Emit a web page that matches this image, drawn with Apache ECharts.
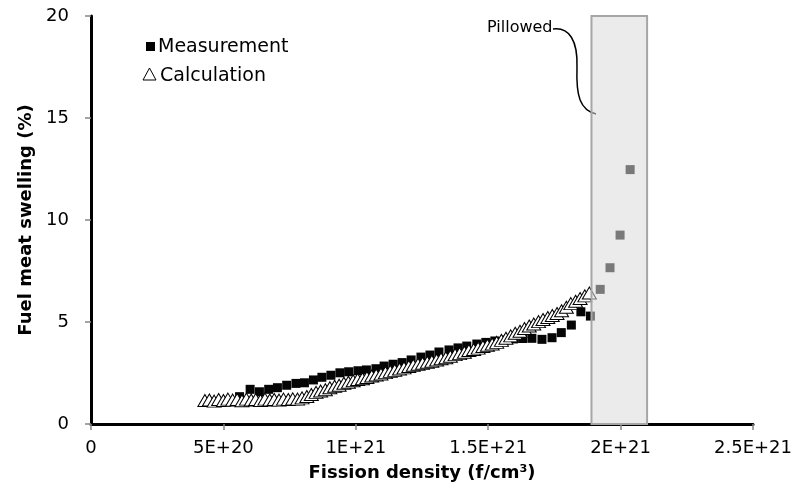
<!DOCTYPE html>
<html>
<head>
<meta charset="utf-8">
<script src="https://cdn.jsdelivr.net/npm/echarts@6/dist/echarts.min.js"></script>
<style>
html,body{margin:0;padding:0;background:#fff;}
#chart{width:795px;height:489px;}
</style>
</head>
<body>
<div id="chart"></div>
<script>
// Fission density in units of 1E+21 f/cm3
var measX = [0.561,0.601,0.636,0.671,0.704,0.739,0.774,0.806,0.840,0.872,0.906,0.940,0.973,1.008,1.040,1.076,1.107,1.141,1.175,1.209,1.246,1.280,1.314,1.352,1.386,1.419,1.457,1.491,1.525,1.562,1.596,1.630,1.665,1.703,1.741,1.776,1.814,1.850,1.886,1.923,1.960,1.998,2.036];
var measY = [1.34,1.70,1.58,1.70,1.78,1.90,1.99,2.02,2.16,2.29,2.39,2.51,2.56,2.61,2.65,2.71,2.84,2.93,3.01,3.14,3.28,3.38,3.53,3.63,3.73,3.82,3.92,4.00,4.07,4.12,4.17,4.19,4.20,4.15,4.23,4.48,4.85,5.50,5.29,6.60,7.66,9.26,12.47];

var calcX = [0.430,0.447,0.465,0.482,0.500,0.517,0.535,0.552,0.570,0.587,0.605,0.622,0.640,0.657,0.675,0.692,0.710,0.727,0.745,0.762,0.780,0.797,0.815,0.832,0.850,0.867,0.885,0.902,0.920,0.937,0.955,0.972,0.990,1.007,1.025,1.042,1.060,1.077,1.095,1.112,1.130,1.147,1.165,1.182,1.200,1.217,1.235,1.252,1.270,1.287,1.305,1.322,1.340,1.357,1.375,1.392,1.410,1.427,1.445,1.462,1.480,1.497,1.515,1.532,1.550,1.567,1.585,1.602,1.620,1.637,1.655,1.672,1.690,1.707,1.725,1.742,1.760,1.777,1.795,1.812,1.830,1.847,1.865,1.882];
var calcY = [1.15,1.18,1.12,1.20,1.15,1.22,1.17,1.20,1.14,1.22,1.18,1.20,1.15,1.22,1.18,1.20,1.17,1.22,1.20,1.23,1.22,1.28,1.35,1.45,1.55,1.62,1.68,1.78,1.85,1.90,2.00,2.05,2.12,2.18,2.22,2.28,2.35,2.40,2.45,2.52,2.58,2.63,2.70,2.75,2.82,2.88,2.93,2.98,3.03,3.08,3.14,3.20,3.25,3.32,3.40,3.45,3.52,3.60,3.65,3.72,3.80,3.86,3.92,4.00,4.10,4.20,4.32,4.45,4.55,4.68,4.80,4.90,5.02,5.12,5.22,5.32,5.42,5.55,5.72,5.90,6.02,6.15,6.28,6.42];

var pillowedRange = [1.89, 2.10];
var xTickLabels = ['0','5E+20','1E+21','1.5E+21','2E+21','2.5E+21'];
var yTickLabels = ['0','5','10','15','20'];
var SCALE = 1e21;

var FONT = 'DejaVu Sans';
function pairs(xs, ys){ return xs.map(function(x,i){ return [x*SCALE, ys[i]]; }); }

var chart = echarts.init(document.getElementById('chart'), null, {renderer:'canvas'});
var gray = '#868686';
var option = {
  animation:false,
  backgroundColor:'#fff',
  grid:{left:91,right:40,top:16,bottom:65},
  xAxis:[{
    type:'value', min:0, max:2.5*SCALE, interval:0.5*SCALE,
    axisLine:{show:true,onZero:false,lineStyle:{color:gray,width:2}},
    axisTick:{show:true,inside:false,length:6,lineStyle:{color:gray,width:1.5}},
    splitLine:{show:false},
    axisLabel:{margin:15,color:'#000',fontFamily:FONT,fontSize:18,
      formatter:function(v){ return xTickLabels[Math.round(v/(0.5*SCALE))]; }},
    name:'Fission density (f/cm³)', nameLocation:'middle', nameGap:40,
    nameTextStyle:{fontFamily:FONT,fontSize:18,fontWeight:'bold',color:'#000'}
  },{
    type:'value', position:'top', min:0, max:2.5*SCALE,
    axisLine:{show:true,lineStyle:{color:'#000',width:3}},
    axisTick:{show:false}, axisLabel:{show:false}, splitLine:{show:false}
  }],
  yAxis:[{
    type:'value', min:0, max:20, interval:5,
    axisLine:{show:true,onZero:false,lineStyle:{color:gray,width:2}},
    axisTick:{show:true,inside:false,length:6,lineStyle:{color:gray,width:1.5}},
    splitLine:{show:false},
    axisLabel:{margin:22,color:'#000',fontFamily:FONT,fontSize:18,
      formatter:function(v){ return yTickLabels[Math.round(v/5)]; }},
    name:'Fuel meat swelling (%)', nameLocation:'middle', nameGap:56, nameRotate:90,
    nameTextStyle:{fontFamily:FONT,fontSize:18,fontWeight:'bold',color:'#000'}
  },{
    type:'value', position:'right', min:0, max:20,
    axisLine:{show:true,lineStyle:{color:'#000',width:3}},
    axisTick:{show:false}, axisLabel:{show:false}, splitLine:{show:false}
  }],
  series:[{
    name:'Measurement', type:'scatter', z:2,
    symbol:'rect', symbolSize:9,
    itemStyle:{color:'#050505',opacity:1},
    data:pairs(measX, measY)
  },{
    name:'Calculation', type:'scatter', z:3,
    symbol:'triangle', symbolSize:[14,12],
    itemStyle:{color:'#fff',borderColor:'#000',borderWidth:1,opacity:1},
    data:pairs(calcX, calcY)
  },{
    name:'pillowed', type:'scatter', z:10, data:[],
    markArea:{
      silent:true, z:10,
      itemStyle:{color:'rgba(218,218,218,0.545)',borderColor:'#a6a6a6',borderWidth:2},
      data:[[{xAxis:pillowedRange[0]*SCALE, yAxis:0},{xAxis:pillowedRange[1]*SCALE, yAxis:20}]]
    }
  }],
  graphic:[
    {type:'rect', shape:{x:146,y:42,width:9,height:9}, style:{fill:'#000'}},
    {type:'text', x:158, y:38, style:{text:'Measurement',font:'19px "DejaVu Sans"',fill:'#000'}},
    {type:'polygon', shape:{points:[[149.5,68],[143,80],[156,80]]}, style:{fill:'#fff',stroke:'#000',lineWidth:1}},
    {type:'text', x:160, y:67, style:{text:'Calculation',font:'19px "DejaVu Sans"',fill:'#000'}},
    {type:'text', x:487, y:20, style:{text:'Pillowed',font:'16px "DejaVu Sans"',fill:'#000'}},
    {type:'bezierCurve', shape:{x1:553,y1:29,cpx1:569,cpy1:27,cpx2:578,cpy2:40,x2:577,y2:68}, style:{fill:null,stroke:'#000',lineWidth:1.5}},
    {type:'bezierCurve', shape:{x1:577,y1:68,cpx1:576,cpy1:96,cpx2:580,cpy2:110,x2:596,y2:114}, style:{fill:null,stroke:'#000',lineWidth:1.5}}
  ]
};
chart.setOption(option);
</script>
</body>
</html>
